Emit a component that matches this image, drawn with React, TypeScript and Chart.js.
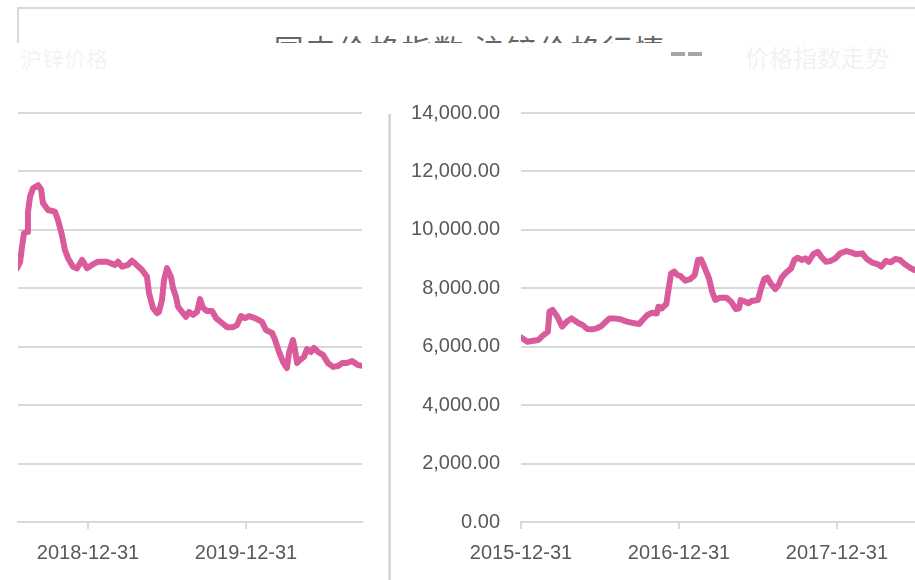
import React, { useEffect, useRef } from 'react';
import { Chart, registerables } from 'chart.js';

Chart.register(...registerables);

// x values are fractional years: 2016.0 = 2015-12-31
const dates = [
  2016.0, 2016.04, 2016.08, 2016.11, 2016.13, 2016.17, 2016.18, 2016.2, 2016.23, 2016.26,
  2016.29, 2016.32, 2016.36, 2016.39, 2016.42, 2016.45, 2016.48, 2016.51, 2016.53, 2016.56,
  2016.59, 2016.63, 2016.67, 2016.72, 2016.75, 2016.77, 2016.8, 2016.83, 2016.86, 2016.87,
  2016.89, 2016.92, 2016.93, 2016.95, 2016.97, 2016.99, 2017.01, 2017.04, 2017.07, 2017.1,
  2017.12, 2017.14, 2017.16, 2017.19, 2017.21, 2017.23, 2017.26, 2017.3, 2017.33, 2017.36,
  2017.38, 2017.39, 2017.42, 2017.44, 2017.46, 2017.5, 2017.52, 2017.54, 2017.56, 2017.58,
  2017.61, 2017.63, 2017.65, 2017.68, 2017.71, 2017.73, 2017.75, 2017.78, 2017.8, 2017.82,
  2017.85, 2017.88, 2017.9, 2017.93, 2017.96, 2017.99, 2018.02, 2018.06, 2018.09, 2018.12,
  2018.16, 2018.19, 2018.22, 2018.26, 2018.28, 2018.31, 2018.34, 2018.37, 2018.4, 2018.43,
  2018.47, 2018.49,
  2018.551, 2018.57, 2018.582, 2018.595, 2018.614, 2018.62, 2018.633, 2018.652, 2018.684, 2018.703,
  2018.715, 2018.747, 2018.791, 2018.81, 2018.835, 2018.854, 2018.873, 2018.905, 2018.93, 2018.962,
  2018.994, 2019.025, 2019.063, 2019.12, 2019.171, 2019.19, 2019.215, 2019.253, 2019.278, 2019.297,
  2019.342, 2019.373, 2019.386, 2019.411, 2019.437, 2019.449, 2019.468, 2019.481, 2019.5, 2019.525,
  2019.538, 2019.557, 2019.57, 2019.601, 2019.62, 2019.639, 2019.665, 2019.69, 2019.709, 2019.728,
  2019.753, 2019.785, 2019.81, 2019.848, 2019.88, 2019.918, 2019.943, 2019.968, 2019.994, 2020.019,
  2020.057, 2020.101, 2020.127, 2020.165, 2020.184, 2020.209, 2020.234, 2020.259, 2020.272, 2020.297,
  2020.31, 2020.323, 2020.342, 2020.367, 2020.386, 2020.411, 2020.43, 2020.456, 2020.487, 2020.519,
  2020.551, 2020.582, 2020.608, 2020.639, 2020.671, 2020.69, 2020.709, 2020.741,
];

const prices = [
  6320, 6170, 6205, 6230, 6340, 6515, 7200, 7260, 7030, 6690,
  6860, 6970, 6820, 6745, 6605, 6595, 6630, 6710, 6820, 6970,
  6970, 6940, 6860, 6800, 6780, 6915, 7085, 7165, 7140, 7370,
  7310, 7460, 7830, 8510, 8570, 8455, 8420, 8260, 8310, 8455,
  8970, 8990, 8740, 8340, 7880, 7600, 7680, 7680, 7540, 7290,
  7315, 7600, 7540, 7485, 7565, 7600, 8000, 8320, 8365, 8170,
  7975, 8110, 8365, 8545, 8680, 8970, 9045, 8970, 9025, 8910,
  9165, 9250, 9080, 8910, 8935, 9025, 9195, 9275, 9230, 9165,
  9195, 9000, 8890, 8820, 8740, 8935, 8890, 9000, 8970, 8820,
  8680, 8625,
  8690, 8900, 9400, 9890, 9930, 10600, 11130, 11420, 11530, 11380,
  10920, 10680, 10620, 10340, 9820, 9310, 9040, 8740, 8680, 8970,
  8690, 8800, 8910, 8910, 8800, 8910, 8740, 8800, 8945, 8855,
  8625, 8400, 7840, 7330, 7150, 7190, 7600, 8280, 8690, 8390,
  8010, 7700, 7360, 7150, 7020, 7190, 7090, 7190, 7630, 7330,
  7220, 7220, 6980, 6810, 6670, 6670, 6740, 7050, 6980, 7050,
  6980, 6850, 6570, 6470, 6230, 5820, 5480, 5270, 5790, 6230,
  5890, 5440, 5550, 5650, 5920, 5820, 5960, 5820, 5720, 5440,
  5310, 5340, 5440, 5440, 5510, 5440, 5370, 5340,
];

const yTickValues = [0, 2000, 4000, 6000, 8000, 10000, 12000, 14000];
const leftTickValues = [2019, 2020];
const leftTickLabels = ['2018-12-31', '2019-12-31'];
const rightTickValues = [2016, 2017, 2018];
const rightTickLabels = ['2015-12-31', '2016-12-31', '2017-12-31'];

const TITLE = '国内价格指数 沪锌价格行情';
const LEGEND_LEFT = '沪锌价格';
const LEGEND_RIGHT = '价格指数走势';

const FONT = "'Liberation Sans', Arial, sans-serif";
const TEXT = '#595959';
const GRID = '#d9d9d9';
const LINE = '#d95b9b';

function makeConfig(
  min: number,
  max: number,
  tickValues: number[],
  tickLabels: string[],
  showY: boolean,
  yWidth: number,
  padRight: number,
): any {
  return {
    type: 'line',
    data: {
      datasets: [
        {
          data: dates.map((d, i) => ({ x: d, y: prices[i] })),
          borderColor: LINE,
          borderWidth: 6,
          pointRadius: 0,
          tension: 0,
          borderJoinStyle: 'round',
          borderCapStyle: 'round',
          fill: false,
        },
      ],
    },
    options: {
      animation: false,
      responsive: false,
      devicePixelRatio: 1,
      layout: { padding: { top: 113, right: padRight, bottom: 0, left: 0 } },
      plugins: { legend: { display: false }, tooltip: { enabled: false }, title: { display: false } },
      scales: {
        x: {
          type: 'linear',
          min,
          max,
          afterBuildTicks: (s: any) => {
            s.ticks = tickValues.map((v) => ({ value: v }));
          },
          afterFit: (s: any) => {
            s.height = 58;
          },
          ticks: {
            autoSkip: false,
            maxRotation: 0,
            padding: 12,
            color: TEXT,
            font: { family: FONT, size: 20 },
            callback: (_v: any, i: number) => tickLabels[i] ?? '',
          },
          grid: { drawOnChartArea: false, drawTicks: true, tickLength: 7, color: GRID, lineWidth: 2 },
          border: { display: true, color: GRID, width: 2 },
        },
        y: {
          min: 0,
          max: 14000,
          afterBuildTicks: (s: any) => {
            s.ticks = yTickValues.map((v) => ({ value: v }));
          },
          afterFit: (s: any) => {
            s.width = yWidth;
          },
          ticks: {
            display: showY,
            padding: 21,
            color: TEXT,
            font: { family: FONT, size: 20 },
            callback: (v: any) =>
              Number(v).toLocaleString('en-US', { minimumFractionDigits: 2, maximumFractionDigits: 2 }),
          },
          grid: { color: GRID, lineWidth: 2, drawTicks: false },
          border: { display: false },
        },
      },
    },
  };
}

export default function App() {
  const leftRef = useRef<HTMLCanvasElement | null>(null);
  const rightRef = useRef<HTMLCanvasElement | null>(null);

  useEffect(() => {
    const charts: Chart[] = [];
    if (leftRef.current) {
      charts.push(
        new Chart(leftRef.current, makeConfig(2018.557, 2020.734, leftTickValues, leftTickLabels, false, 18, 18)),
      );
    }
    if (rightRef.current) {
      charts.push(
        new Chart(rightRef.current, makeConfig(2016.0, 2018.494, rightTickValues, rightTickLabels, true, 126, 0)),
      );
    }
    return () => charts.forEach((c) => c.destroy());
  }, []);

  return (
    <div
      style={{
        position: 'absolute',
        left: 0,
        top: 0,
        width: 915,
        height: 580,
        background: '#fff',
        overflow: 'hidden',
      }}
    >
      {/* outer frame remnants */}
      <div style={{ position: 'absolute', left: 17, top: 7, width: 898, height: 2, background: GRID }} />
      <div style={{ position: 'absolute', left: 17, top: 7, width: 2, height: 36, background: GRID }} />
      {/* title, only its top visible */}
      <div
        style={{
          position: 'absolute',
          left: 270,
          top: 33,
          width: 400,
          height: 10,
          overflow: 'hidden',
          textAlign: 'center',
          whiteSpace: 'nowrap',
          fontFamily: "'Noto Sans CJK SC', sans-serif",
          fontSize: 30,
          lineHeight: '30px',
          letterSpacing: 2,
          color: '#666',
        }}
      >
        {TITLE}
      </div>
      {/* faint legend remnants */}
      <div
        style={{
          position: 'absolute',
          left: 20,
          top: 44,
          fontFamily: "'Noto Sans CJK SC', sans-serif",
          fontSize: 22,
          lineHeight: '26px',
          color: 'rgba(150,150,170,0.12)',
          whiteSpace: 'nowrap',
        }}
      >
        {LEGEND_LEFT}
      </div>
      <div style={{ position: 'absolute', left: 671, top: 52, width: 14, height: 4, background: '#a6a6a6' }} />
      <div style={{ position: 'absolute', left: 688, top: 52, width: 14, height: 4, background: '#a6a6a6' }} />
      <div
        style={{
          position: 'absolute',
          left: 745,
          top: 44,
          fontFamily: "'Noto Sans CJK SC', sans-serif",
          fontSize: 24,
          lineHeight: '26px',
          color: 'rgba(150,150,170,0.14)',
          whiteSpace: 'nowrap',
        }}
      >
        {LEGEND_RIGHT}
      </div>
      {/* separator */}
      <div style={{ position: 'absolute', left: 388, top: 114, width: 1, height: 466, background: '#f1dada' }} />
      <div style={{ position: 'absolute', left: 389, top: 114, width: 2, height: 466, background: '#d6d6d6' }} />
      <canvas
        ref={leftRef}
        width={380}
        height={580}
        style={{ position: 'absolute', left: 0, top: 0, width: 380, height: 580 }}
      />
      <canvas
        ref={rightRef}
        width={520}
        height={580}
        style={{ position: 'absolute', left: 395, top: 0, width: 520, height: 580 }}
      />
    </div>
  );
}
